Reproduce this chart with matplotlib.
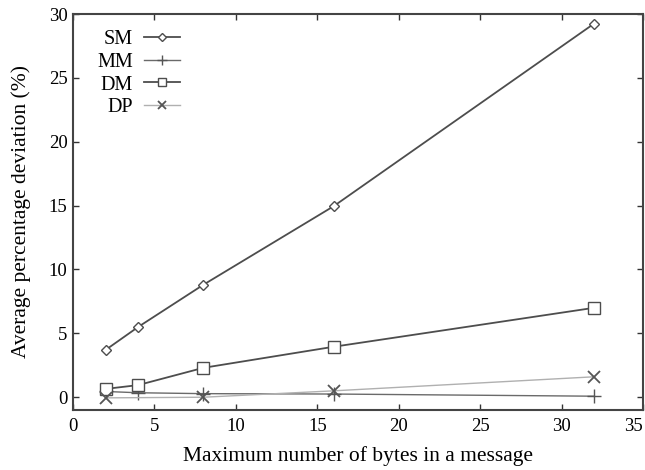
import matplotlib
matplotlib.use("Agg")
import matplotlib.pyplot as plt

x_sm = [2, 4, 8, 16, 32]
sm = [3.7, 5.5, 8.8, 14.95, 29.25]
x_mm = [2, 4, 8, 16, 32]
mm = [0.45, 0.35, 0.28, 0.25, 0.08]
x_dm = [2, 4, 8, 16, 32]
dm = [0.65, 0.95, 2.3, 3.95, 7.0]
x_dp = [2, 8, 16, 32]
dp = [-0.05, 0.0, 0.5, 1.6]

xticks = [0, 5, 10, 15, 20, 25, 30, 35]
yticks = [0, 5, 10, 15, 20, 25, 30]

plt.rcParams['font.family'] = ['Liberation Serif', 'DejaVu Serif']
plt.rcParams['font.size'] = 14

fig = plt.figure(figsize=(6.45, 4.70), dpi=100)
ax = fig.add_axes([73/645, 1 - 410/470, 570/645, 396/470])

dark = '#4d4d4d'
ax.plot(x_sm, sm, color=dark, lw=1.3, marker='D', ms=5.5, mfc='white', mec=dark, mew=1.0, label='SM')
ax.plot(x_mm, mm, color='#6a6a6a', lw=1.0, marker='+', ms=10, mec='#555555', mew=1.0, label='MM')
ax.plot(x_dm, dm, color=dark, lw=1.3, marker='s', ms=8, mfc='white', mec=dark, mew=1.0, label='DM')
ax.plot(x_dp, dp, color='#b0b0b0', lw=1.0, marker='x', ms=8, mec='#555555', mew=1.3, label='DP')

ax.set_xlim(0, 35)
ax.set_ylim(-1, 30)
ax.set_xticks(xticks)
ax.set_yticks(yticks)
ax.tick_params(direction='in', top=True, right=True, length=4, width=1, color='#333333', labelsize=13.5)
ax.tick_params(axis='x', pad=6)
ax.tick_params(axis='y', pad=4)
ax.get_xticklabels()[-1].set_horizontalalignment('right')
for s in ax.spines.values():
    s.set_linewidth(1.5)
    s.set_color('#444444')

ax.set_xlabel('Maximum number of bytes in a message', fontsize=15.5, labelpad=8)
ax.set_ylabel('Average percentage deviation (%)', fontsize=15.5, labelpad=13)

leg = ax.legend(loc='upper left', bbox_to_anchor=(0.028, 0.979), borderaxespad=0, frameon=False,
                markerfirst=False, handlelength=1.8, handletextpad=0.55, labelspacing=0.17,
                fontsize=14.5, markerscale=0.75)
for col in leg._legend_handle_box.get_children():
    col.align = 'right'

fig.savefig('out.png', dpi=100)
